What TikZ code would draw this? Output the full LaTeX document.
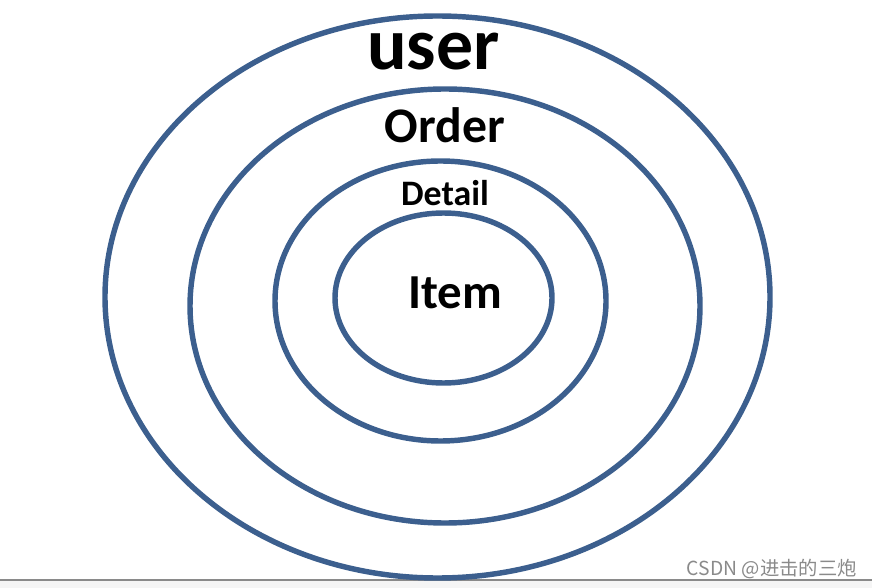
\documentclass[tikz,border=0pt]{standalone}
\usepackage{fontspec}
\setmainfont{Carlito}
\newfontfamily\cjk{Noto Sans CJK SC}
\usetikzlibrary{shapes.geometric}
\definecolor{RingBlue}{HTML}{3C5F8E}
\definecolor{MarkGray}{HTML}{8A8A8A}

\begin{document}
\begin{tikzpicture}[ring/.style={ellipse,draw=RingBlue,line width=3.1pt,inner sep=0pt},
    lbl/.style={anchor=base,inner sep=0pt,font=\bfseries}]
    \useasboundingbox (0,0) rectangle (17.44,-11.76);
    % page foot
    \fill[black!4] (0,-11.6) rectangle (17.44,-11.76);
    \coordinate (fl) at (0,-11.6);
    \coordinate (fr) at (17.44,-11.6);
    \draw[MarkGray,line width=0.8pt] (fl) -- (fr);
    % the four rings
    \node[ring,minimum width=13.3cm,minimum height=11.24cm] (user) at (8.75,-5.94) {};
    \node[ring,minimum width=10.2cm,minimum height=8.68cm] (order) at (8.90,-6.12) {};
    \node[ring,minimum width=6.62cm,minimum height=5.60cm] (detail) at (8.81,-6.02) {};
    \node[ring,minimum width=4.34cm,minimum height=3.40cm] (item) at (8.87,-5.96) {};
    % labels
    \node[lbl,font=\bfseries\fontsize{42}{42}\selectfont] (userl) at (8.67,-1.40) {user};
    \node[lbl,font=\bfseries\fontsize{28.3}{28.3}\selectfont] (orderl) at (8.90,-2.85) {Order};
    \node[lbl,font=\bfseries\fontsize{20.4}{20.4}\selectfont] (detaill) at (8.90,-4.12) {Detail};
    \node[lbl,font=\bfseries\fontsize{27.8}{27.8}\selectfont] (iteml) at (9.10,-6.18) {Item};
    \node[anchor=base east,inner sep=0pt,text=MarkGray,font=\cjk\fontsize{11}{11}\selectfont]
      (mark) at (17.14,-11.50) {CSDN @进击的三炮};
\end{tikzpicture}
\end{document}
